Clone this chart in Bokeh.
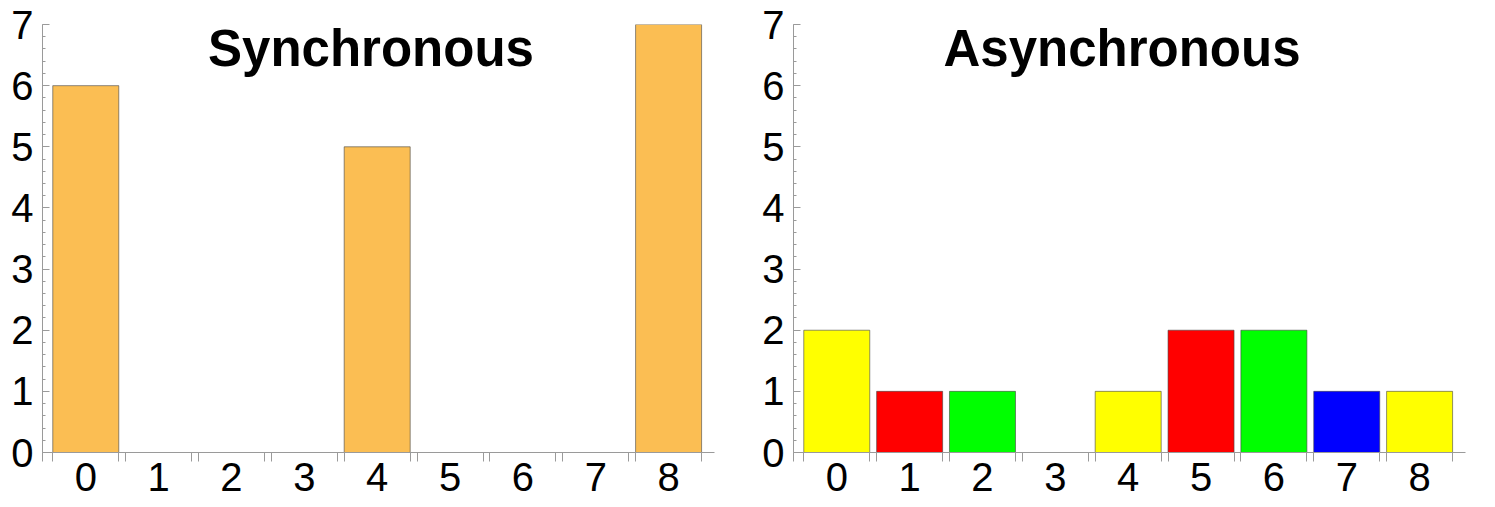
from bokeh.plotting import figure
from bokeh.layouts import row
from bokeh.models import Range1d, FixedTicker, ColumnDataSource, Label
from bokeh.embed import file_html
from bokeh.resources import INLINE

# ---- data ----
categories = [0, 1, 2, 3, 4, 5, 6, 7, 8]
sync_values = [6, 0, 0, 0, 5, 0, 0, 0, 7]
async_values = [2, 1, 1, 0, 1, 2, 2, 1, 1]
sync_colors = ["#FBBE53"] * 9
async_colors = ["#FFFF00", "#FF0000", "#00FF00", "#FFFFFF", "#FFFF00",
                "#FF0000", "#00FF00", "#0000FF", "#FFFF00"]
y_ticks = [0, 1, 2, 3, 4, 5, 6, 7]
titles = ["Synchronous", "Asynchronous"]

# ---- style ----
BAR_W = 0.906
X_START, X_END = -0.594, 8.63
AXIS_COLOR = "#9a9a9a"
FONT = "Liberation Sans"


def make_panel(title, values, colors, border_left, border_right):
    xs = [c for c, v in zip(categories, values) if v > 0]
    tops = [v for v in values if v > 0]
    cols = [c for c, v in zip(colors, values) if v > 0]
    src = ColumnDataSource(dict(x=xs, top=tops, color=cols))

    p = figure(frame_width=672, frame_height=428,
               x_range=Range1d(X_START, X_END), y_range=Range1d(0, 7),
               output_backend="svg", toolbar_location=None,
               min_border_left=border_left, min_border_right=border_right,
               min_border_top=24, min_border_bottom=50)
    p.outline_line_color = None
    p.xgrid.grid_line_color = None
    p.ygrid.grid_line_color = None
    p.background_fill_color = "white"
    p.border_fill_color = "white"

    p.vbar(x="x", top="top", bottom=0, width=BAR_W, source=src,
           fill_color="color", line_color="#444444", line_alpha=0.6,
           line_width=1)

    edges = [X_START]
    for c in categories:
        edges += [c - BAR_W / 2, c + BAR_W / 2]
    xax = p.xaxis[0]
    xax.ticker = FixedTicker(ticks=categories, minor_ticks=edges)
    xax.axis_line_color = AXIS_COLOR
    xax.major_tick_out = 0
    xax.major_tick_in = 0
    xax.minor_tick_out = 9
    xax.minor_tick_in = 0
    xax.minor_tick_line_color = AXIS_COLOR
    xax.major_label_standoff = 1
    xax.major_label_text_font = FONT
    xax.major_label_text_font_size = "40px"
    xax.major_label_text_color = "black"

    minor_y = [i * 0.2 for i in range(36)]
    yax = p.yaxis[0]
    yax.ticker = FixedTicker(ticks=y_ticks, minor_ticks=minor_y)
    yax.axis_line_color = AXIS_COLOR
    yax.major_tick_line_color = AXIS_COLOR
    yax.minor_tick_line_color = AXIS_COLOR
    yax.major_tick_out = 0
    yax.major_tick_in = 7
    yax.minor_tick_out = 0
    yax.minor_tick_in = 3
    yax.major_label_standoff = 9
    yax.major_label_text_font = FONT
    yax.major_label_text_font_size = "40px"
    yax.major_label_text_color = "black"

    p.add_layout(Label(x=3.915, y=6.6, text=title, text_align="center",
                       text_baseline="alphabetic", text_font=FONT,
                       text_font_size="51px", text_font_style="bold",
                       text_color="black"))
    return p


p1 = make_panel(titles[0], sync_values, sync_colors, 42, 34)
p2 = make_panel(titles[1], async_values, async_colors, 45, 22)
layout = row(p1, p2)

open("out.html", "w").write(file_html(layout, INLINE))
